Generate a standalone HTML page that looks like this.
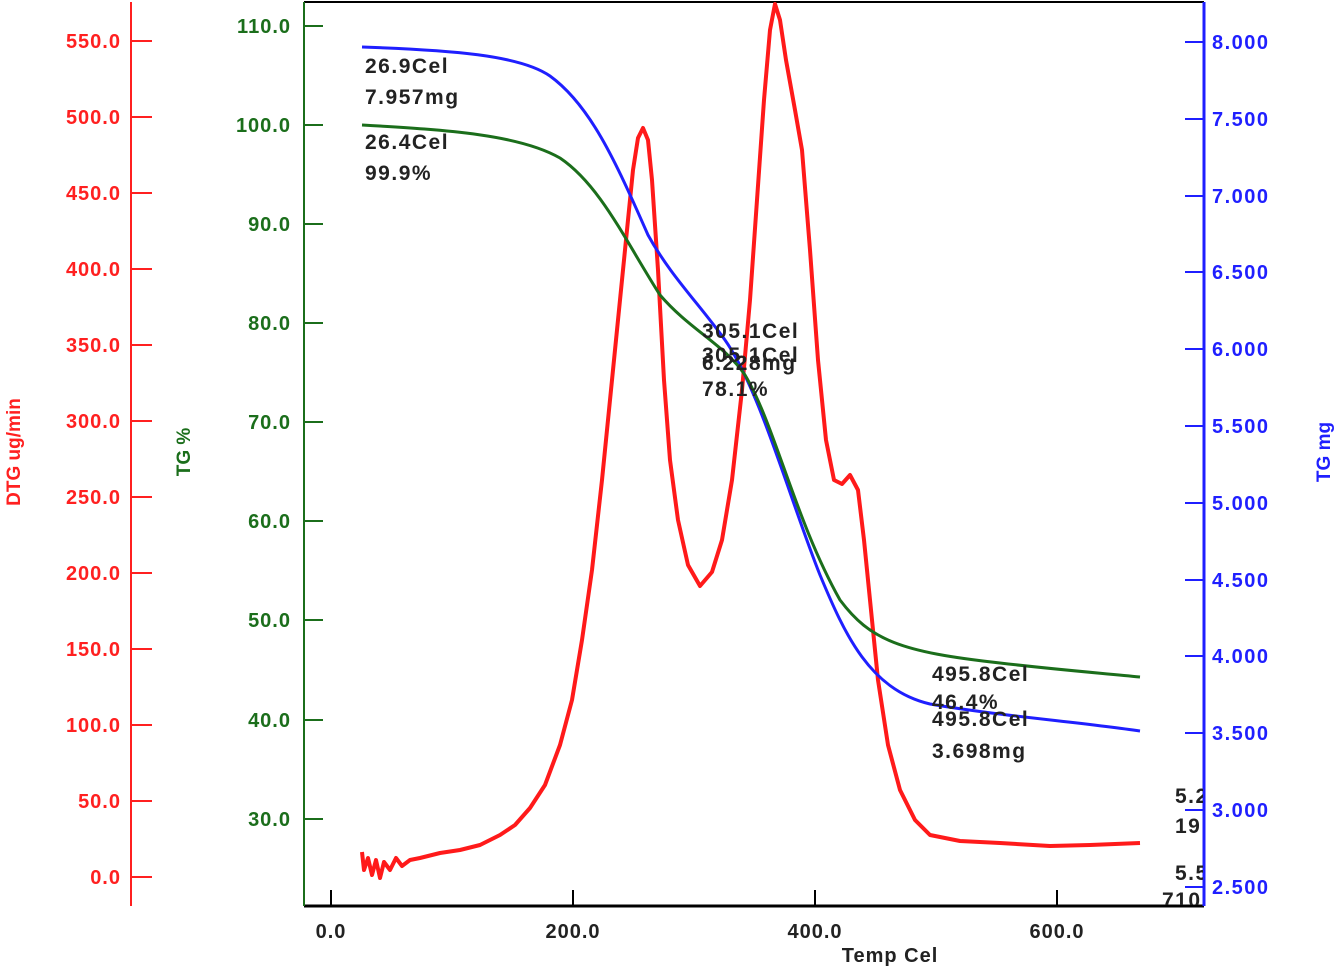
<!DOCTYPE html>
<html><head><style>body{margin:0;background:#fff}svg{display:block}text{font-family:"Liberation Sans",sans-serif;font-weight:bold}</style></head><body>
<svg width="1339" height="970" viewBox="0 0 1339 970">
<defs><clipPath id="c"><rect x="0" y="0" width="1203" height="905"/></clipPath></defs>
<line x1="304" y1="2" x2="1204" y2="2" stroke="#000" stroke-width="2"/>
<line x1="304" y1="906" x2="1204" y2="906" stroke="#000" stroke-width="3"/>
<line x1="304" y1="2" x2="304" y2="906" stroke="#1b6e1b" stroke-width="2"/>
<line x1="131" y1="2" x2="131" y2="906" stroke="#ff2020" stroke-width="2"/>
<g stroke="#000" stroke-width="2"><line x1="331" y1="906" x2="331" y2="890"/><line x1="573" y1="906" x2="573" y2="890"/><line x1="815" y1="906" x2="815" y2="890"/><line x1="1057" y1="906" x2="1057" y2="890"/></g>
<g font-size="20" fill="#222" text-anchor="middle" letter-spacing="1"><text x="331" y="938">0.0</text><text x="573" y="938">200.0</text><text x="815" y="938">400.0</text><text x="1057" y="938">600.0</text><text x="890" y="962">Temp Cel</text></g>
<g stroke="#ff2020" stroke-width="2">
<line x1="131" y1="877" x2="152" y2="877"/><line x1="131" y1="801" x2="152" y2="801"/><line x1="131" y1="725" x2="152" y2="725"/><line x1="131" y1="649" x2="152" y2="649"/><line x1="131" y1="573" x2="152" y2="573"/><line x1="131" y1="497" x2="152" y2="497"/><line x1="131" y1="421" x2="152" y2="421"/><line x1="131" y1="345" x2="152" y2="345"/><line x1="131" y1="269" x2="152" y2="269"/><line x1="131" y1="193" x2="152" y2="193"/><line x1="131" y1="117" x2="152" y2="117"/><line x1="131" y1="41" x2="152" y2="41"/></g>
<g font-size="20" fill="#ff2020" text-anchor="end" letter-spacing="1">
<text x="121" y="884">0.0</text><text x="121" y="808">50.0</text><text x="121" y="732">100.0</text><text x="121" y="656">150.0</text><text x="121" y="580">200.0</text><text x="121" y="504">250.0</text><text x="121" y="428">300.0</text><text x="121" y="352">350.0</text><text x="121" y="276">400.0</text><text x="121" y="200">450.0</text><text x="121" y="124">500.0</text><text x="121" y="48">550.0</text></g>
<text transform="translate(20,452) rotate(-90)" font-size="19" fill="#ff2020" text-anchor="middle">DTG ug/min</text>
<g stroke="#1b6e1b" stroke-width="2">
<line x1="304" y1="26" x2="323" y2="26"/><line x1="304" y1="125" x2="323" y2="125"/><line x1="304" y1="224" x2="323" y2="224"/><line x1="304" y1="323" x2="323" y2="323"/><line x1="304" y1="422" x2="323" y2="422"/><line x1="304" y1="521" x2="323" y2="521"/><line x1="304" y1="620" x2="323" y2="620"/><line x1="304" y1="720" x2="323" y2="720"/><line x1="304" y1="819" x2="323" y2="819"/></g>
<g font-size="20" fill="#1b6e1b" text-anchor="end" letter-spacing="1">
<text x="291" y="33">110.0</text><text x="291" y="132">100.0</text><text x="291" y="231">90.0</text><text x="291" y="330">80.0</text><text x="291" y="429">70.0</text><text x="291" y="528">60.0</text><text x="291" y="627">50.0</text><text x="291" y="727">40.0</text><text x="291" y="826">30.0</text></g>
<text transform="translate(190,452) rotate(-90)" font-size="19" fill="#1b6e1b" text-anchor="middle">TG %</text>
<g stroke="#1f1fff" stroke-width="2">
<line x1="1185" y1="42" x2="1204" y2="42"/><line x1="1185" y1="119" x2="1204" y2="119"/><line x1="1185" y1="196" x2="1204" y2="196"/><line x1="1185" y1="272" x2="1204" y2="272"/><line x1="1185" y1="349" x2="1204" y2="349"/><line x1="1185" y1="426" x2="1204" y2="426"/><line x1="1185" y1="503" x2="1204" y2="503"/><line x1="1185" y1="580" x2="1204" y2="580"/><line x1="1185" y1="656" x2="1204" y2="656"/><line x1="1185" y1="733" x2="1204" y2="733"/><line x1="1185" y1="810" x2="1204" y2="810"/><line x1="1185" y1="887" x2="1204" y2="887"/></g>
<g font-size="20" fill="#1f1fff" letter-spacing="1.5">
<text x="1212" y="49">8.000</text><text x="1212" y="126">7.500</text><text x="1212" y="203">7.000</text><text x="1212" y="279">6.500</text><text x="1212" y="356">6.000</text><text x="1212" y="433">5.500</text><text x="1212" y="510">5.000</text><text x="1212" y="587">4.500</text><text x="1212" y="663">4.000</text><text x="1212" y="740">3.500</text><text x="1212" y="817">3.000</text><text x="1212" y="894">2.500</text></g>
<text transform="translate(1330,452) rotate(-90)" font-size="19" fill="#1f1fff" text-anchor="middle">TG mg</text>
<g stroke-linejoin="round" fill="none">
<path d="M362,852 L364,870 L368,858 L372,875 L376,860 L380,878 L384,862 L390,870 L396,858 L402,866 L410,860 L420,858 L440,853 L460,850 L480,845 L500,835 L515,825 L530,808 L545,785 L560,745 L572,700 L582,640 L592,570 L602,480 L612,380 L620,300 L627,230 L633,170 L638,138 L643,128 L648,140 L652,180 L658,270 L664,380 L670,460 L678,520 L688,565 L700,586 L712,572 L722,540 L732,480 L742,390 L750,300 L757,200 L764,100 L770,30 L775,4 L780,20 L786,60 L795,110 L802,150 L810,250 L818,360 L826,440 L834,480 L842,484 L850,475 L858,490 L864,540 L870,600 L878,680 L888,745 L900,790 L915,820 L930,835 L960,841 L1000,843 L1050,846 L1090,845 L1140,843" stroke="#ff1a1a" stroke-width="4"/>
<path d="M362,47 C450,50 520,55 550,76 C590,105 615,160 648,235 C670,275 700,305 725,340 C760,390 790,500 820,575 C845,635 870,690 930,704 C1000,716 1080,722 1140,731" stroke="#1f1fff" stroke-width="3"/>
<path d="M362,125 C450,130 520,135 560,158 C600,185 625,240 660,295 C690,330 725,345 745,375 C775,425 795,520 840,600 C870,640 900,652 1000,663 C1060,670 1100,673 1140,677" stroke="#1b6e1b" stroke-width="3"/>
</g>
<line x1="1204" y1="2" x2="1204" y2="906" stroke="#1f1fff" stroke-width="3"/>
<g font-size="21" fill="#222" letter-spacing="1.5">
<text x="365" y="73">26.9Cel</text><text x="365" y="104">7.957mg</text>
<text x="365" y="149">26.4Cel</text><text x="365" y="180">99.9%</text>
<text x="702" y="338">305.1Cel</text><text x="702" y="362">305.1Cel</text><text x="702" y="370">6.228mg</text><text x="702" y="396">78.1%</text>
<text x="932" y="681">495.8Cel</text><text x="932" y="709">46.4%</text><text x="932" y="726">495.8Cel</text><text x="932" y="758">3.698mg</text>
<g clip-path="url(#c)"><text x="1175" y="803">5.2</text><text x="1175" y="833">19</text><text x="1175" y="880">5.5</text><text x="1162" y="907">710</text></g></g>
</svg>
</body></html>
